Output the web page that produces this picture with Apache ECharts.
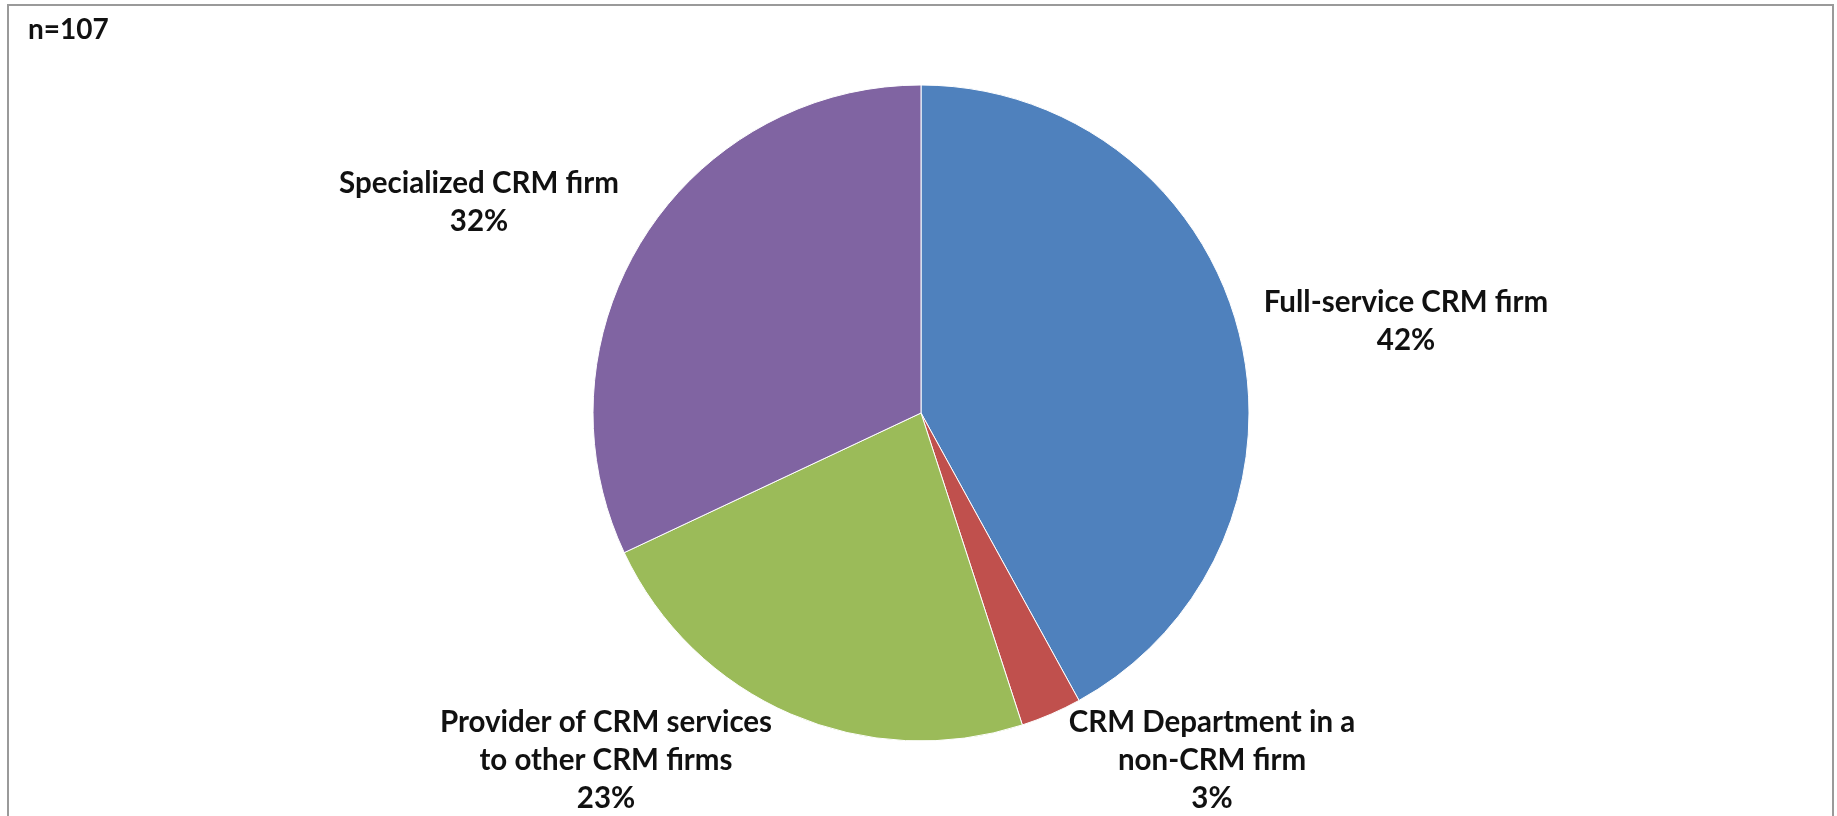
<!DOCTYPE html>
<html>
<head>
<meta charset="utf-8">
<title>CRM firm types</title>
<script src="https://cdn.jsdelivr.net/npm/echarts@6/dist/echarts.min.js"></script>
<style>
  html, body { margin: 0; padding: 0; background: #ffffff; }
  #chart { width: 1837px; height: 816px; }
</style>
</head>
<body>
<div id="chart"></div>
<script>
// Respondent firm types (share of respondents, %)
const categories = [
  'Full-service CRM firm',
  'CRM Department in a\nnon-CRM firm',
  'Provider of CRM services\nto other CRM firms',
  'Specialized CRM firm'
];
const shares = [42, 3, 23, 32];
const sliceColors = ['#4F81BD', '#C0504D', '#9BBB59', '#8064A2'];
const sampleNote = 'n=107';

// Where each slice's caption sits, as fractions of the chart area
const labelAnchors = [
  [1406 / 1837, 321 / 816],
  [1212 / 1837, 760 / 816],
  [606 / 1837, 760 / 816],
  [479 / 1837, 202 / 816]
];

const chart = echarts.init(document.getElementById('chart'), null, { renderer: 'canvas' });
const W = chart.getWidth();
const H = chart.getHeight();
const FONT = 'Lato, "Open Sans", sans-serif';

chart.setOption({
  animation: false,
  backgroundColor: '#ffffff',
  graphic: [
    {
      type: 'rect',
      shape: { x: 8, y: 5, width: 1825, height: 830 },
      style: { fill: 'none', stroke: '#9a9a9a', lineWidth: 2 },
      z: 10
    },
    {
      type: 'text',
      left: 28,
      top: 16,
      style: { text: sampleNote, font: 'bold 28px ' + FONT, fill: '#111111' }
    }
  ],
  series: [{
    type: 'pie',
    center: [921, 413],
    radius: 328,
    startAngle: 90,
    clockwise: true,
    avoidLabelOverlap: false,
    itemStyle: { borderColor: '#ffffff', borderWidth: 1 },
    label: {
      show: true,
      position: 'outside',
      formatter: p => p.name + '\n' + p.value + '%',
      fontFamily: FONT,
      fontWeight: 'bold',
      fontSize: 29.5,
      lineHeight: 38,
      color: '#111111',
      align: 'center'
    },
    labelLine: { show: false },
    labelLayout: params => {
      const a = labelAnchors[params.dataIndex];
      return { x: a[0] * W, y: a[1] * H, align: 'center', verticalAlign: 'middle' };
    },
    emphasis: { disabled: true },
    data: categories.map((name, i) => ({
      name: name,
      value: shares[i],
      itemStyle: { color: sliceColors[i] }
    }))
  }]
});
</script>
</body>
</html>
